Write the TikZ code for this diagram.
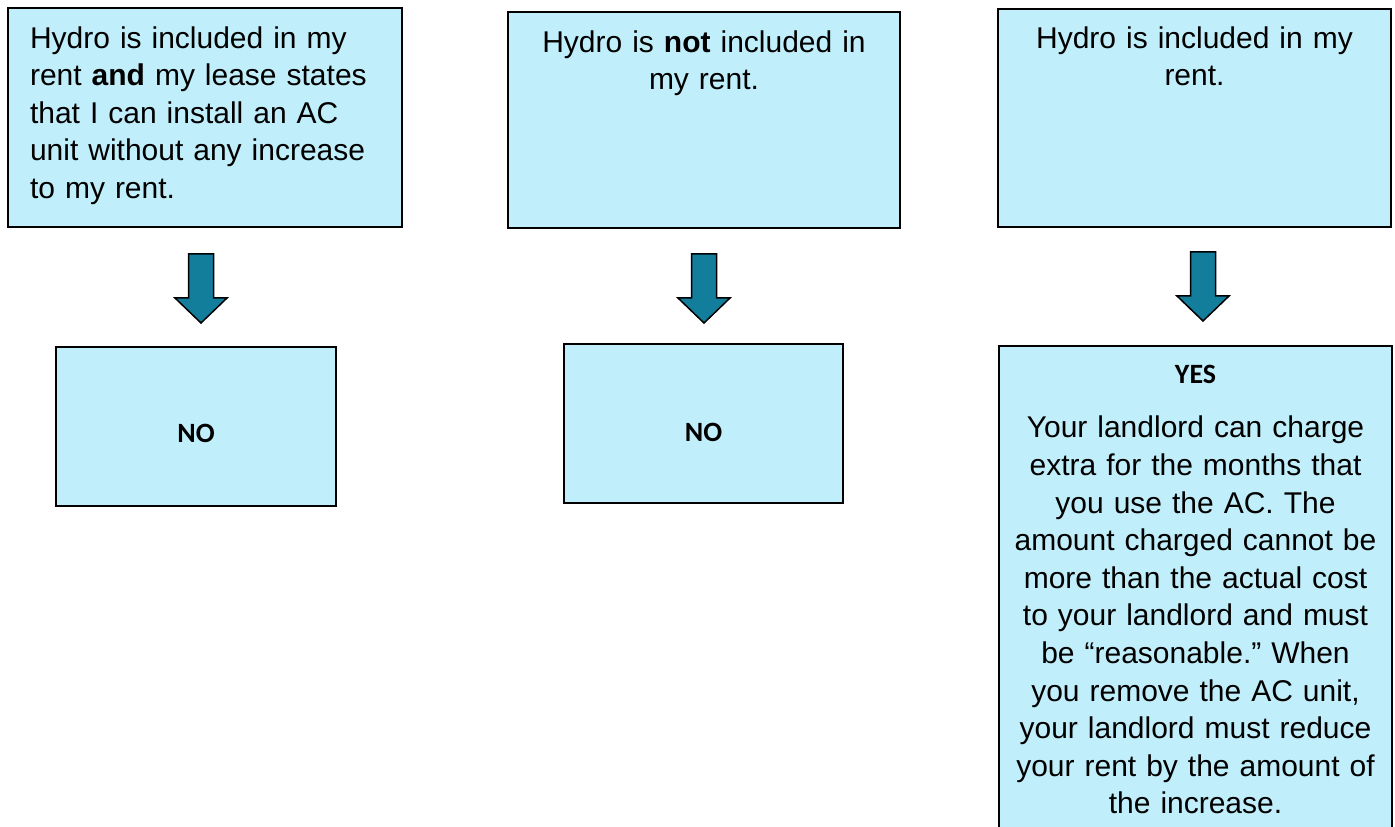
\documentclass[tikz,border=0pt]{standalone}
\usepackage{fontspec}
\setmainfont{Liberation Sans}
\newfontfamily\calibri{Carlito}
\frenchspacing
\definecolor{boxfill}{RGB}{192,238,250}
\definecolor{arrowfill}{RGB}{18,126,156}
\newcommand{\flowarrow}[2]{\filldraw[fill=arrowfill, draw=black, line width=0.03cm, line join=miter] ( #1 - 12.5 , #2 ) -- ( #1 + 12.5 , #2 ) -- ( #1 + 12.5 , #2 + 44 ) -- ( #1 + 26 , #2 + 44 ) -- ( #1 , #2 + 69 ) -- ( #1 - 26 , #2 + 44 ) -- ( #1 - 12.5 , #2 + 44 ) -- cycle;}
\tikzset{
  box/.style={draw=black, fill=boxfill, line width=0.04cm, inner ysep=0pt, inner xsep=0.2cm, font={\fontsize{17.07}{21.4}\selectfont}, align=center},
  answer/.style={box, font={\calibri\bfseries\fontsize{15.9}{19}\selectfont}}
}

\begin{document}
\begin{tikzpicture}[x=0.02cm, y=-0.02cm]
    \useasboundingbox (0,0) rectangle (1395,827);
    \clip (0,0) rectangle (1395,827);
    % questions
    \node[box, align=left, inner xsep=0.44cm, text width=7.0cm, text height=0.8cm, text depth=3.58cm] (q1) at (205,117.5)
        {Hydro is included in my\\ rent \textbf{and} my lease states\\ that I can install an AC\\ unit without any increase\\ to my rent.};
    \node[box, text width=7.44cm, text height=0.8cm, text depth=3.52cm] (q2) at (704,120)
        {Hydro is \textbf{not} included in\\ my rent.};
    \node[box, text width=7.46cm, text height=0.78cm, text depth=3.58cm] (q3) at (1194.5,118)
        {Hydro is included in my\\ rent.};
    % arrows
    \flowarrow{201}{254}
    \flowarrow{704}{254}
    \flowarrow{1203}{252}
    % answers
    \node[answer, text width=5.2cm, text height=1.92cm, text depth=1.26cm] (a1) at (196,426.5) {NO};
    \node[answer, text width=5.18cm, text height=1.96cm, text depth=1.22cm] (a2) at (703.5,423.5) {NO};
    \node[box, text width=7.46cm, text height=0.76cm, text depth=9.24cm, anchor=north] (a3) at (1195.5,345)
        {{\calibri\bfseries\fontsize{15.9}{19}\selectfont YES}\\[9.3pt]
         Your landlord can charge\\ extra for the months that\\ you use the AC. The\\ amount charged cannot be\\
         more than the actual cost\\ to your landlord and must\\ be “reasonable.” When\\ you remove the AC unit,\\
         your landlord must reduce\\ your rent by the amount of\\ the increase.};
\end{tikzpicture}
\end{document}
